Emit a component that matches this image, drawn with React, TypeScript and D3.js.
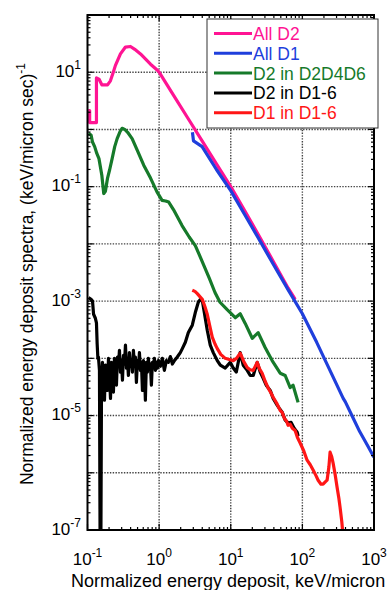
import * as d3 from "d3";
import React from "react";

// every point is [log10(energy deposit, keV/micron), log10(spectrum)]
const allD2: [number, number][] = [
  [-0.99, 0.33], [-0.97, 0.33], [-0.97, 0.12], [-0.875, 0.12], [-0.875, 0.9], [-0.84, 0.88],
  [-0.8, 0.78], [-0.72, 0.78], [-0.68, 0.85], [-0.64, 1.0], [-0.61, 1.12], [-0.54, 1.32],
  [-0.47, 1.44], [-0.4, 1.45], [-0.34, 1.4], [-0.26, 1.32], [-0.12, 1.14], [-0.02, 1.03],
  [0.0, 1.0], [0.2, 0.6], [0.4, 0.2], [0.6, -0.2], [0.8, -0.6], [1.0, -1.0], [1.2, -1.43],
  [1.4, -1.87], [1.6, -2.32], [1.8, -2.77], [1.9, -2.97],
];

const allD1: [number, number][] = [
  [0.465, -0.05], [0.48, -0.2], [0.6, -0.3], [0.8, -0.7], [1.0, -1.07], [1.2, -1.5],
  [1.4, -1.93], [1.6, -2.37], [1.8, -2.8], [2.0, -3.22], [2.2, -3.72], [2.4, -4.25],
  [2.57, -4.7], [2.6, -4.76], [2.7, -5.02], [2.8, -5.28], [2.9, -5.5], [3.0, -5.73],
];

const d2InD2D4D6: [number, number][] = [
  [-0.986, -0.07], [-0.95, -0.1], [-0.93, -0.22], [-0.9, -0.3], [-0.87, -0.42], [-0.84, -0.51],
  [-0.8, -0.8], [-0.773, -1.12], [-0.75, -1.08], [-0.72, -0.85], [-0.69, -0.7], [-0.656, -0.51],
  [-0.62, -0.3], [-0.586, -0.16], [-0.55, -0.05], [-0.517, 0.02], [-0.48, 0.0], [-0.44, -0.05],
  [-0.377, -0.16], [-0.3, -0.38], [-0.215, -0.625], [-0.12, -0.85], [-0.03, -1.09],
  [0.041, -1.24], [0.09, -1.25], [0.134, -1.27], [0.2, -1.4], [0.32, -1.68], [0.42, -1.88],
  [0.505, -2.03], [0.575, -2.23], [0.7, -2.6], [0.78, -2.85], [0.85, -3.02], [0.95, -3.15],
  [1.063, -3.29], [1.132, -3.22], [1.202, -3.39], [1.3, -3.65], [1.383, -3.55], [1.48, -3.81],
  [1.578, -4.04], [1.69, -4.26], [1.76, -4.3], [1.83, -4.51], [1.87, -4.47], [1.94, -4.77],
];

const d2InD16: [number, number][] = [
  [-0.986, -2.94], [-0.95, -2.97], [-0.93, -3.0], [-0.915, -3.23], [-0.89, -3.3], [-0.875, -3.38],
  [-0.865, -3.75], [-0.855, -4.0], [-0.847, -3.98], [-0.833, -4.21], [-0.819, -9],
  [-0.805, -4.65], [-0.791, -4.07], [-0.777, -4.38], [-0.763, -4.73], [-0.749, -4.12],
  [-0.735, -4.24], [-0.721, -4.56], [-0.707, -4.0], [-0.693, -4.3], [-0.679, -4.7],
  [-0.665, -4.07], [-0.652, -4.35], [-0.638, -4.59], [-0.624, -4.0], [-0.61, -4.21],
  [-0.596, -4.47], [-0.582, -3.98], [-0.568, -4.14], [-0.554, -3.86], [-0.54, -4.24],
  [-0.526, -4.04], [-0.512, -4.38], [-0.498, -3.95], [-0.484, -4.1], [-0.47, -3.77],
  [-0.456, -4.17], [-0.443, -4.0], [-0.429, -4.3], [-0.415, -3.9], [-0.401, -4.14],
  [-0.387, -4.04], [-0.373, -4.24], [-0.359, -3.86], [-0.345, -4.12], [-0.331, -3.98],
  [-0.317, -4.42], [-0.303, -4.04], [-0.289, -4.17], [-0.275, -3.9], [-0.261, -4.21],
  [-0.247, -4.07], [-0.233, -4.56], [-0.22, -4.04], [-0.206, -4.14], [-0.192, -4.73],
  [-0.178, -4.07], [-0.164, -4.24], [-0.15, -4.0], [-0.136, -4.17], [-0.122, -4.1],
  [-0.108, -4.47], [-0.094, -4.07], [-0.08, -4.14], [-0.066, -4.0], [-0.052, -4.21],
  [-0.038, -4.07], [-0.024, -4.17], [-0.01, -4.04], [0.017, -4.14], [0.045, -4.0],
  [0.073, -4.21], [0.101, -4.04], [0.129, -4.07], [0.157, -3.97], [0.185, -4.1],
  [0.213, -4.04], [0.24, -4.0], [0.268, -3.95], [0.296, -3.9], [0.324, -3.83], [0.366, -3.72],
  [0.408, -3.55], [0.463, -3.42], [0.505, -3.2], [0.547, -3.02], [0.575, -2.97], [0.603, -2.99],
  [0.631, -3.2], [0.672, -3.51], [0.714, -3.77], [0.756, -3.9], [0.812, -4.04], [0.854, -4.12],
  [0.923, -4.17], [0.993, -4.07], [1.035, -4.17], [1.077, -4.24], [1.132, -3.9], [1.174, -4.12],
  [1.23, -4.21], [1.272, -4.3], [1.314, -4.3], [1.369, -4.07], [1.411, -4.24], [1.453, -4.35],
  [1.495, -4.47], [1.551, -4.56], [1.592, -4.7], [1.634, -4.79], [1.676, -4.87], [1.718, -4.94],
  [1.76, -5.08], [1.801, -5.13], [1.843, -5.12], [1.885, -5.22], [1.927, -5.29], [1.941, -5.36],
];

const d1InD16: [number, number][] = [
  [0.463, -2.81], [0.5, -2.83], [0.533, -2.87], [0.575, -2.93], [0.603, -2.97], [0.64, -3.1],
  [0.672, -3.23], [0.71, -3.45], [0.742, -3.63], [0.78, -3.75], [0.812, -3.83], [0.86, -3.93],
  [0.923, -4.0], [0.98, -4.02], [1.035, -4.04], [1.08, -4.0], [1.132, -3.91], [1.18, -4.05],
  [1.23, -4.16], [1.27, -4.2], [1.314, -4.21], [1.369, -4.07], [1.4, -4.18], [1.439, -4.26],
  [1.48, -4.4], [1.523, -4.52], [1.56, -4.6], [1.592, -4.68], [1.64, -4.78], [1.69, -4.91],
  [1.72, -4.95], [1.75, -5.05], [1.78, -5.1], [1.8, -5.17], [1.83, -5.15], [1.86, -5.22],
  [1.899, -5.26], [1.93, -5.38], [1.969, -5.48], [2.02, -5.62], [2.066, -5.78], [2.11, -5.86],
  [2.15, -5.95], [2.19, -6.05], [2.22, -6.13], [2.26, -6.2], [2.289, -6.2], [2.32, -6.16],
  [2.345, -6.13], [2.37, -5.9], [2.387, -5.64], [2.41, -5.72], [2.429, -5.83], [2.46, -6.05],
  [2.484, -6.25], [2.51, -6.45], [2.526, -6.6], [2.55, -6.85], [2.568, -7.1],
];

const seriesNames = ["All D2", "All D1", "D2 in D2D4D6", "D2 in D1-6", "D1 in D1-6"];
const seriesColors = ["#ff1493", "#1f3fdc", "#167a2a", "#000000", "#ff1616"];
const seriesData = [allD2, allD1, d2InD2D4D6, d2InD16, d1InD16];

const xTickExps = [-1, 0, 1, 2, 3];
const yTickExps = [1, -1, -3, -5, -7];

const W = 391;
const H = 590;
const left = 87.5;
const right = 374;
const top = 15;
const bottom = 530;
const font = "'Liberation Sans', Arial, sans-serif";

export default function App() {
  const x = d3.scaleLog().domain([0.1, 1000]).range([left, right]);
  const y = d3.scaleLog().domain([1e-7, 100]).range([bottom, top]);

  const line = d3
    .line<[number, number]>()
    .x((d) => x(10 ** d[0]))
    .y((d) => y(10 ** d[1]));

  const xMinor: number[] = [];
  for (let e = -1; e < 3; e++) for (let k = 2; k <= 9; k++) xMinor.push(k * 10 ** e);
  const yMinor: number[] = [];
  for (let e = -7; e < 2; e++) for (let k = 2; k <= 9; k++) yMinor.push(k * 10 ** e);
  const xMajor = d3.range(-1, 4).map((e) => 10 ** e);
  const yMajor = d3.range(-7, 3).map((e) => 10 ** e);

  return (
    <svg width={W} height={H} style={{ position: "absolute", left: 0, top: 0, background: "#fff" }}>
      <defs>
        <clipPath id="plot">
          <rect x={left} y={top} width={right - left} height={bottom - top} />
        </clipPath>
      </defs>

      {/* dotted grid */}
      <g stroke="#444" strokeWidth={1.4} strokeDasharray="1.4,1.4">
        {xMajor.slice(1, -1).map((v) => (
          <line key={"gx" + v} x1={x(v)} x2={x(v)} y1={top} y2={bottom} />
        ))}
        {yMajor.slice(1, -1).map((v) => (
          <line key={"gy" + v} x1={left} x2={right} y1={y(v)} y2={y(v)} />
        ))}
      </g>

      <g clipPath="url(#plot)" fill="none" strokeWidth={3.2} strokeLinejoin="round">
        {seriesData.map((s, i) => (
          <path key={seriesNames[i]} d={line(s) ?? ""} stroke={seriesColors[i]} />
        ))}
      </g>

      {/* frame and inward ticks */}
      <rect x={left} y={top} width={right - left} height={bottom - top} fill="none" stroke="#000" strokeWidth={2} />
      <g stroke="#000" strokeWidth={1.2}>
        {xMajor.map((v) => (
          <g key={"xt" + v}>
            <line x1={x(v)} x2={x(v)} y1={bottom} y2={bottom - 6} />
            <line x1={x(v)} x2={x(v)} y1={top} y2={top + 6} />
          </g>
        ))}
        {xMinor.map((v) => (
          <g key={"xm" + v}>
            <line x1={x(v)} x2={x(v)} y1={bottom} y2={bottom - 3} />
            <line x1={x(v)} x2={x(v)} y1={top} y2={top + 3} />
          </g>
        ))}
        {yMajor.map((v) => (
          <g key={"yt" + v}>
            <line x1={left} x2={left + 6} y1={y(v)} y2={y(v)} />
            <line x1={right} x2={right - 6} y1={y(v)} y2={y(v)} />
          </g>
        ))}
        {yMinor.map((v) => (
          <g key={"ym" + v}>
            <line x1={left} x2={left + 3} y1={y(v)} y2={y(v)} />
            <line x1={right} x2={right - 3} y1={y(v)} y2={y(v)} />
          </g>
        ))}
      </g>

      {/* tick labels */}
      <g fontFamily={font} fill="#000">
        {xTickExps.map((e) => (
          <text key={"xl" + e} x={x(10 ** e)} y={565} textAnchor="middle" fontSize={17}>
            10
            <tspan fontSize={12} dy={-8}>
              {e}
            </tspan>
          </text>
        ))}
        {yTickExps.map((e) => (
          <text key={"yl" + e} x={81} y={y(10 ** e) + 4.5} textAnchor="end" fontSize={17}>
            10
            <tspan fontSize={12} dy={-8}>
              {e}
            </tspan>
          </text>
        ))}
      </g>

      {/* axis titles */}
      <text x={71} y={587} fontFamily={font} fontSize={18}>
        Normalized energy deposit, keV/micron
      </text>
      <text transform="translate(33,274) rotate(-90)" textAnchor="middle" fontFamily={font} fontSize={17.5}>
        Normalized energy deposit spectra, (keV/micron sec)
        <tspan fontSize={12} dy={-8}>
          -1
        </tspan>
      </text>

      {/* legend */}
      <rect x={207} y={19} width={171} height={109} fill="#fff" stroke="#333" strokeWidth={1} />
      {seriesNames.map((n, i) => (
        <g key={"lg" + n}>
          <line x1={214} x2={252} y1={33.5 + i * 19.8} y2={33.5 + i * 19.8} stroke={seriesColors[i]} strokeWidth={3} />
          <text x={253} y={40 + i * 19.8} fill={seriesColors[i]} fontFamily={font} fontSize={17.5}>
            {n}
          </text>
        </g>
      ))}
    </svg>
  );
}
